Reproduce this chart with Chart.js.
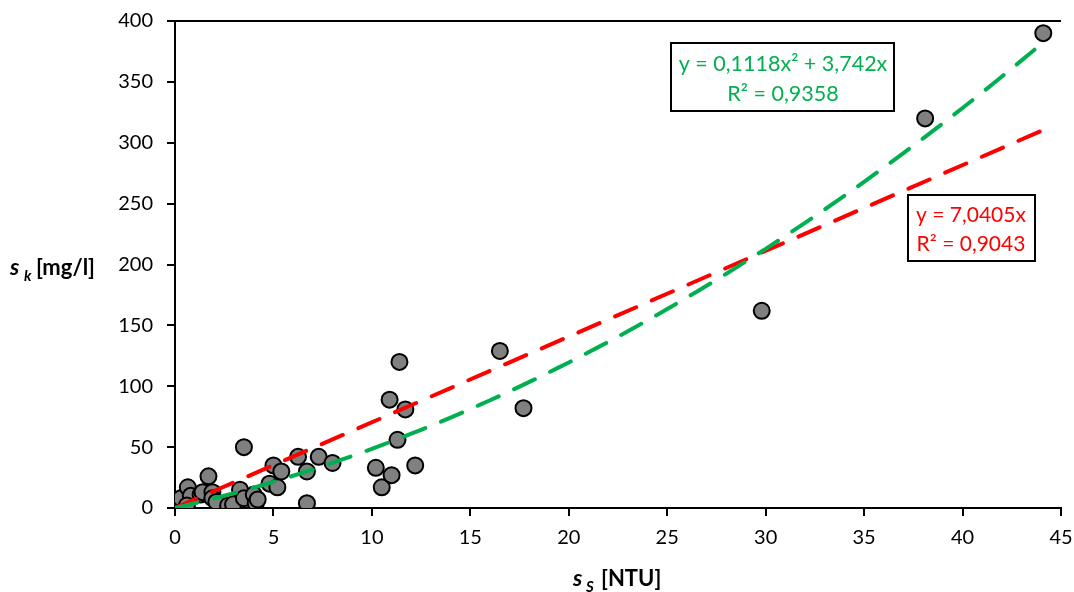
<!DOCTYPE html>
<html>
<head>
<meta charset="utf-8">
<script src="https://cdn.jsdelivr.net/npm/chart.js@4.4.1/dist/chart.umd.min.js"></script>
<style>
  body { margin: 0; background: #fff; }
  #wrap { width: 1074px; height: 592px; }
</style>
</head>
<body>
<div id="wrap"><canvas id="chart" width="1074" height="592"></canvas></div>
<script>
// measured samples, s_S [NTU]
var ssValues = [0.3, 0.65, 0.8, 0.6, 1.3, 1.4, 1.7, 1.9, 1.9, 2.1, 2.7, 2.95,
  3.3, 3.5, 3.5, 4.0, 4.1, 4.2, 4.8, 5.0, 5.2, 5.4, 6.25, 6.7, 6.7, 7.3, 8.0,
  10.2, 10.5, 10.9, 11.0, 11.3, 11.4, 11.7, 12.2, 16.5, 17.7, 29.8, 38.1, 44.1];
// s_k [mg/l]
var skValues = [8, 17, 10, 2, 11, 13, 26, 13, 8, 5, 2, 3,
  15, 50, 8, 11, 4, 7, 20, 35, 17, 30, 42, 30, 4, 42, 37,
  33, 17, 89, 27, 56, 120, 81, 35, 129, 82, 162, 320, 390];

var xTicks = [0, 5, 10, 15, 20, 25, 30, 35, 40, 45];
var yTicks = [0, 50, 100, 150, 200, 250, 300, 350, 400];

// trendline coefficients printed on the chart
var linSlope = 7.0405;
var quadA = 0.1118, quadB = 3.742;
var trendEnd = 44.1;

var scatterPts = ssValues.map(function (x, i) { return { x: x, y: skValues[i] }; });
var linPts = [{ x: 0, y: 0 }, { x: trendEnd, y: linSlope * trendEnd }];
var quadPts = [];
for (var i = 0; i <= 90; i++) {
  var x = Math.min(i * 0.5, trendEnd);
  quadPts.push({ x: x, y: quadA * x * x + quadB * x });
  if (x >= trendEnd) break;
}

var font = "Lato, 'Open Sans', sans-serif";

// axis titles with subscripts, top border, equation boxes
var extras = {
  id: 'extras',
  afterDraw: function (chart) {
    var c = chart.ctx;
    var a = chart.chartArea;
    c.save();
    // plot area top edge
    c.strokeStyle = '#000';
    c.lineWidth = 2;
    c.beginPath();
    c.moveTo(a.left, a.top);
    c.lineTo(a.right, a.top);
    c.stroke();

    c.fillStyle = '#000';
    c.textBaseline = 'alphabetic';
    // y title
    c.font = 'italic bold 23px ' + font;
    c.fillText('s', 10, 275);
    c.font = 'italic bold 15px ' + font;
    c.fillText('k', 24, 281);
    c.font = 'bold 22px ' + font;
    c.fillText('[mg/l]', 36, 275);
    // x title
    c.font = 'italic bold 23px ' + font;
    c.fillText('s', 573, 586);
    c.font = 'italic bold 15px ' + font;
    c.fillText('S', 586, 592);
    c.font = 'bold 22px ' + font;
    c.fillText('[NTU]', 601, 586);

    // equation boxes
    c.lineWidth = 2;
    c.strokeStyle = '#000';
    c.fillStyle = '#fff';
    c.fillRect(671, 43, 223, 68);
    c.strokeRect(671, 43, 223, 68);
    c.fillRect(908, 195, 127, 66);
    c.strokeRect(908, 195, 127, 66);

    c.textAlign = 'center';
    c.font = '21.5px ' + font;
    c.fillStyle = '#00B050';
    c.fillText('y = 0,1118x\u00B2 + 3,742x', 783, 71);
    c.fillText('R\u00B2 = 0,9358', 783, 101);
    c.fillStyle = '#FF0000';
    c.font = '21px ' + font;
    c.fillText('y = 7,0405x', 971, 222);
    c.fillText('R\u00B2 = 0,9043', 971, 251);
    c.restore();
  }
};

var ctx = document.getElementById('chart');
var chart = new Chart(ctx, {
  type: 'scatter',
  data: {
    datasets: [
      {
        type: 'line',
        data: quadPts,
        borderColor: '#00B050',
        borderWidth: 4,
        borderDash: [23, 17],
        borderCapStyle: 'round',
        pointRadius: 0,
        fill: false,
        order: 1
      },
      {
        type: 'line',
        data: linPts,
        borderColor: '#FF0000',
        borderWidth: 4,
        borderDash: [23, 17],
        borderCapStyle: 'round',
        pointRadius: 0,
        fill: false,
        order: 2
      },
      {
        data: scatterPts,
        backgroundColor: '#808080',
        borderColor: '#000',
        borderWidth: 2,
        pointRadius: 8,
        order: 3
      }
    ]
  },
  options: {
    responsive: false,
    animation: false,
    layout: { padding: { left: 0, right: 13, top: 21, bottom: 0 } },
    plugins: { legend: { display: false }, tooltip: { enabled: false } },
    scales: {
      x: {
        type: 'linear',
        min: 0, max: 45,
        afterBuildTicks: function (s) { s.ticks = xTicks.map(function (v) { return { value: v }; }); },
        afterFit: function (s) { s.height = 84; s.paddingLeft = 0; s.paddingRight = 0; },
        border: { display: true, color: '#000', width: 2 },
        grid: { drawOnChartArea: false, drawTicks: true, tickLength: 8, color: '#000', lineWidth: 2 },
        ticks: { color: '#000', font: { family: font, size: 20 }, padding: 10, maxRotation: 0 }
      },
      y: {
        type: 'linear',
        min: 0, max: 400,
        afterBuildTicks: function (s) { s.ticks = yTicks.map(function (v) { return { value: v }; }); },
        afterFit: function (s) { s.width = 175; s.paddingTop = 0; s.paddingBottom = 0; },
        border: { display: true, color: '#000', width: 2 },
        grid: { drawOnChartArea: false, drawTicks: true, tickLength: 8, color: '#000', lineWidth: 2 },
        ticks: { color: '#000', font: { family: font, size: 20 }, padding: 14 }
      }
    }
  },
  plugins: [extras]
});
</script>
</body>
</html>
